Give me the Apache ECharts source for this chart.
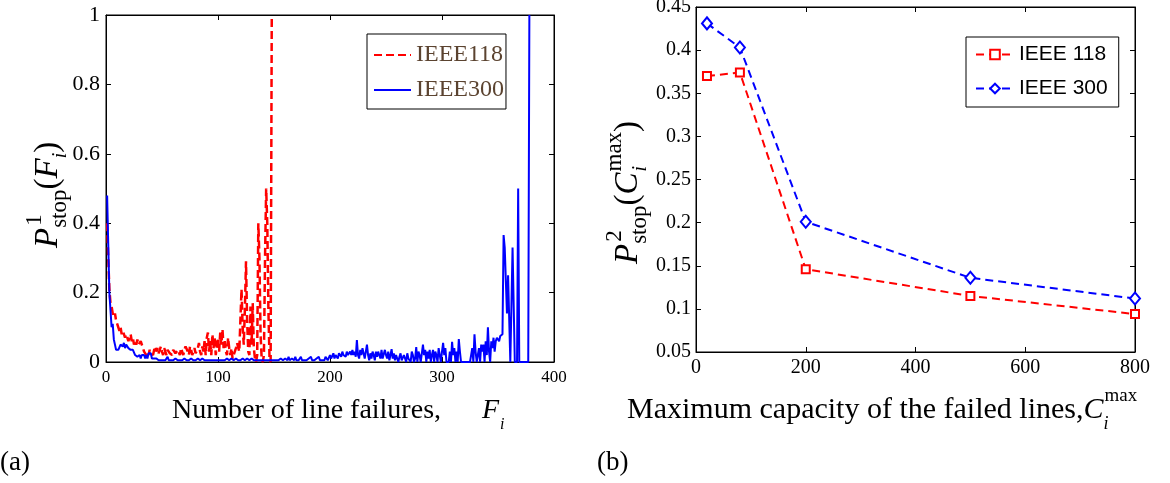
<!DOCTYPE html>
<html><head><meta charset="utf-8">
<script src="https://cdn.jsdelivr.net/npm/echarts@6/dist/echarts.min.js"></script>
<style>html,body{margin:0;padding:0;background:#fff}#c{width:1170px;height:483px}</style>
</head><body><div id="c"></div>
<script>
// ---------- DATA ----------
// Panel (a): P^1_stop(F_i), F_i = 1,2,3,...
const ieee118Name = 'IEEE118';
const ieee300Name = 'IEEE300';
const p118 = [
 0.40,0.30,0.21,0.17,0.16,0.14,0.13,0.14,0.12,0.11,
 0.10,0.09,0.10,0.08,0.09,0.08,0.07,0.08,0.07,0.06,
 0.07,0.08,0.06,0.07,0.05,0.06,0.05,0.065,0.05,0.045,
 0.06,0.05,0.04,0.03,0.035,0.02,0.03,0.02,0.035,0.025,
 0.03,0.02,0.035,0.045,0.03,0.04,0.025,0.035,0.045,0.03,
 0.02,0.04,0.03,0.02,0.035,0.04,0.025,0.03,0.02,0.035,
 0.04,0.025,0.02,0.035,0.03,0.02,0.04,0.03,0.02,0.035,
 0.045,0.05,0.03,0.02,0.045,0.035,0.02,0.03,0.04,0.025,
 0.02,0.04,0.055,0.03,0.02,0.045,0.03,0.06,0.02,0.07,
 0.085,0.03,0.06,0.02,0.08,0.04,0.07,0.02,0.05,0.07,
 0.03,0.085,0.05,0.095,0.04,0.06,0.03,0.02,0.07,0.04,
 0.02,0.04,0.01,0.02,0.03,0.04,0.055,0.05,0.03,0.12,
 0.21,0.10,0.05,0.15,0.29,0.12,0.03,0.02,0.16,0.05,
 0.17,0.04,0.01,0.0,0.02,0.40,0.30,0.08,0.01,0.0,
 0.02,0.30,0.50,0.40,0.15,0.01,0.0,1.0
];
const p300 = [
 0.48,0.34,0.20,0.15,0.10,0.11,0.065,0.05,0.035,0.04,
 0.035,0.03,0.05,0.055,0.045,0.055,0.04,0.05,0.055,0.04,
 0.045,0.035,0.03,0.035,0.03,0.02,0.025,0.015,0.02,0.02,
 0.01,0.02,0.015,0.02,0.01,0.02,0.01,0.025,0.02,0.025,
 0.01,0.015,0.01,0.005,0.01,0.015,0.005,0.01,0.005,0.01,
 0.005,0.01,0.005,0.01,0.015,0.005,0.01,0.005,0.01,0.005,
 0.005,0.01,0.005,0.005,0.01,0.005,0.01,0.005,0.005,0.01,
 0.005,0.005,0.01,0.005,0.005,0.01,0.005,0.005,0.01,0.005,
 0.005,0.01,0.005,0.005,0.005,0.01,0.005,0.005,0.01,0.005,
 0.005,0.005,0.01,0.005,0.005,0.005,0.01,0.005,0.005,0.005,
 0.01,0.005,0.005,0.005,0.01,0.005,0.005,0.01,0.005,0.005,
 0.005,0.01,0.005,0.005,0.005,0.01,0.005,0.005,0.01,0.005,
 0.005,0.01,0.005,0.005,0.005,0.01,0.005,0.005,0.005,0.01,
 0.005,0.005,0.01,0.005,0.005,0.005,0.01,0.005,0.005,0.005,
 0.01,0.005,0.005,0.005,0.01,0.005,0.005,0.005,0.01,0.005,
 0.005,0.005,0.01,0.005,0.005,0.01,0.005,0.005,0.005,0.01,
 0.005,0.005,0.015,0.005,0.005,0.01,0.005,0.005,0.015,0.005,
 0.01,0.005,0.01,0.015,0.005,0.01,0.005,0.01,0.005,0.005,
 0.01,0.005,0.015,0.005,0.01,0.005,0.005,0.01,0.005,0.015,
 0.005,0.01,0.005,0.01,0.005,0.015,0.01,0.005,0.01,0.02,
 0.01,0.015,0.025,0.01,0.02,0.015,0.01,0.025,0.02,0.015,
 0.03,0.02,0.025,0.015,0.03,0.02,0.025,0.03,0.02,0.035,
 0.02,0.03,0.015,0.063,0.02,0.01,0.035,0.02,0.04,0.025,
 0.01,0.03,0.05,0.02,0.005,0.025,0.01,0.03,0.02,0.005,
 0.03,0.015,0.03,0.02,0.01,0.035,0.01,0.005,0.035,0.02,
 0.01,0.03,0.005,0.02,0.037,0.01,0.025,0.005,0.02,0.01,
 0.0,0.015,0.025,0.005,0.0,0.02,0.01,0.0,0.025,0.01,
 0.015,0.0,0.03,0.02,0.0,0.01,0.043,0.0,0.03,0.02,
 0.0,0.025,0.05,0.02,0.035,0.0,0.03,0.01,0.035,0.0,
 0.02,0.035,0.0,0.03,0.02,0.0,0.04,0.02,0.0,0.03,
 0.055,0.02,0.04,0.0,0.0,0.0,0.03,0.0,0.058,0.02,
 0.04,0.0,0.03,0.0,0.066,0.03,0.0,0.0,0.0,0.0,
 0.0,0.0,0.0,0.0,0.0,0.02,0.04,0.0,0.08,0.03,
 0.0,0.0,0.04,0.0,0.05,0.03,0.05,0.0,0.06,0.02,
 0.10,0.03,0.0,0.06,0.04,0.07,0.03,0.06,0.07,0.075,
 0.06,0.075,0.08,0.08,0.366,0.33,0.33,0.14,0.25,0.25,
 0.0,0.0,0.33,0.33,0.0,0.0,0.0,0.5,0.0,0.0,
 0.0,0.0,0.0,0.0,0.0,0.0,0.0,1.0
];
const xTicksA = [0, 400, 100];   // min, max, interval
const yTicksA = [0, 1, 0.2];

// Panel (b): P^2_stop(C_i^max)
const ieee118bName = 'IEEE 118';
const ieee300bName = 'IEEE 300';
const capacity = [20, 80, 200, 500, 800];
const p118b = [0.370, 0.374, 0.146, 0.115, 0.094];
const p300b = [0.431, 0.403, 0.201, 0.136, 0.112];
const xTicksB = [0, 800, 200];
const yTicksB = [0.05, 0.45, 0.05];

// ---------- RENDER ----------
const SERIF = '"Liberation Serif","Times New Roman",serif';
const SANS = '"Liberation Sans",Arial,sans-serif';
const mctx = document.createElement('canvas').getContext('2d');
function tw(t, s, it) { mctx.font = (it ? 'italic ' : '') + s + 'px ' + SERIF; return mctx.measureText(t).width; }
function mathText(x, y, rot, parts) {
  let cx = 0; const children = [];
  parts.forEach(p => {
    children.push({type: 'text', x: cx + (p.dx || 0), y: (p.dy || 0) + 0.16 * p.s,
      style: {text: p.t, fontSize: p.s, fontFamily: SERIF, fontStyle: p.it ? 'italic' : 'normal',
        fill: '#000', align: 'left', verticalAlign: 'bottom'}});
    if (p.adv !== false) cx += (p.w !== undefined ? p.w : tw(p.t, p.s, p.it)) + (p.dx || 0);
  });
  return {type: 'group', x: x, y: y, rotation: rot, silent: true, children: children};
}

function valAxis(grid, t, pos, showLabel, fs, margin) {
  return {
    type: 'value', gridIndex: grid, min: t[0], max: t[1], interval: t[2], position: pos,
    axisLine: {show: true, onZero: false, lineStyle: {color: '#000', width: 1}},
    axisTick: {show: true, inside: true, length: 5, lineStyle: {color: '#000', width: 1}},
    splitLine: {show: false},
    axisLabel: {show: showLabel, color: '#000', fontFamily: SERIF, fontSize: fs, margin: margin,
      formatter: v => String(+v.toFixed(2))}
  };
}

const chart = echarts.init(document.getElementById('c'), null, {renderer: 'canvas'});
const option = {
  animation: false,
  backgroundColor: '#fff',
  grid: [
    {left: 106, top: 15, width: 448, height: 347, show: true, borderColor: '#000', borderWidth: 1, backgroundColor: '#fff', outerBoundsMode: 'none'},
    {left: 696, top: 7, width: 439, height: 345, show: true, borderColor: '#000', borderWidth: 1, backgroundColor: '#fff', outerBoundsMode: 'none'}
  ],
  xAxis: [
    valAxis(0, xTicksA, 'bottom', true, 17, 7),
    valAxis(0, xTicksA, 'top', false),
    valAxis(1, xTicksB, 'bottom', true, 20, 6),
    valAxis(1, xTicksB, 'top', false)
  ],
  yAxis: [
    valAxis(0, yTicksA, 'left', true, 22, 6),
    valAxis(0, yTicksA, 'right', false),
    valAxis(1, yTicksB, 'left', true, 20, 5),
    valAxis(1, yTicksB, 'right', false)
  ],
  legend: [
    {data: [ieee118Name, ieee300Name], orient: 'vertical', left: 367, top: 34, padding: [9, 2, 7, 6],
     itemGap: 11, itemWidth: 37, itemHeight: 14, backgroundColor: '#fff', borderColor: '#000', borderWidth: 1,
     itemStyle: {opacity: 0}, selectedMode: false, textStyle: {fontFamily: SERIF, fontSize: 24, color: '#5b4330'}},
    {data: [ieee118bName, ieee300bName], orient: 'vertical', left: 966, top: 37, padding: [7, 11, 8, 9],
     itemGap: 13, itemWidth: 38, itemHeight: 12, backgroundColor: '#fff', borderColor: '#000', borderWidth: 1,
     selectedMode: false, textStyle: {fontFamily: SANS, fontSize: 21, color: '#000'}}
  ],
  series: [
    {name: ieee118Name, type: 'line', xAxisIndex: 0, yAxisIndex: 0, symbol: 'none',
     data: p118.map((v, i) => [i + 1, v]),
     lineStyle: {color: '#ff0000', width: 2.5, type: [8, 4]}, itemStyle: {color: '#ff0000'}},
    {name: ieee300Name, type: 'line', xAxisIndex: 0, yAxisIndex: 0, symbol: 'none',
     data: p300.map((v, i) => [i + 1, v]),
     lineStyle: {color: '#0000ff', width: 2}, itemStyle: {color: '#0000ff'}},
    {name: ieee118bName, type: 'line', xAxisIndex: 2, yAxisIndex: 2, symbol: 'rect', symbolSize: 8, showAllSymbol: true,
     data: capacity.map((c, i) => [c, p118b[i]]),
     lineStyle: {color: '#ff0000', width: 2, type: [8, 5]},
     itemStyle: {color: '#ffffff', borderColor: '#ff0000', borderWidth: 2}},
    {name: ieee300bName, type: 'line', xAxisIndex: 2, yAxisIndex: 2, symbol: 'diamond', symbolSize: [10, 12], showAllSymbol: true,
     data: capacity.map((c, i) => [c, p300b[i]]),
     lineStyle: {color: '#0000ff', width: 2, type: [8, 5]},
     itemStyle: {color: '#ffffff', borderColor: '#0000ff', borderWidth: 2}}
  ],
  graphic: [
    mathText(60, 248, Math.PI / 2, [
      {t: 'P', s: 33, it: true}, {t: '1', s: 23, dy: -17, dx: 2, adv: false}, {t: 'stop', s: 23, dy: 8},
      {t: '(', s: 33}, {t: 'F', s: 33, it: true}, {t: 'i', s: 20, it: true, dy: 8}, {t: ')', s: 33}]),
    mathText(640, 264, Math.PI / 2, [
      {t: 'P', s: 33, it: true}, {t: '2', s: 23, dy: -17, dx: 2, adv: false}, {t: 'stop', s: 23, dy: 8},
      {t: '(', s: 33}, {t: 'C', s: 33, it: true}, {t: 'max', s: 23, dy: -17, dx: 1, adv: false},
      {t: 'i', s: 20, it: true, dy: 8, dx: 1, w: tw('max', 23, false)}, {t: ')', s: 33}]),
    mathText(172, 420, 0, [{t: 'Number of line failures,', s: 28}]),
    mathText(482, 420, 0, [{t: 'F', s: 28, it: true}, {t: 'i', s: 16, it: true, dy: 10, dx: 1}]),
    mathText(627, 420, 0, [{t: 'Maximum capacity of the failed lines,', s: 30},
      {t: 'C', s: 30, it: true}, {t: 'max', s: 19, dy: -18, dx: 1, adv: false}, {t: 'i', s: 18, it: true, dy: 10}]),
    mathText(0, 472, 0, [{t: '(a)', s: 27}]),
    mathText(597, 472, 0, [{t: '(b)', s: 27}])
  ]
};
chart.setOption(option);
</script></body></html>
